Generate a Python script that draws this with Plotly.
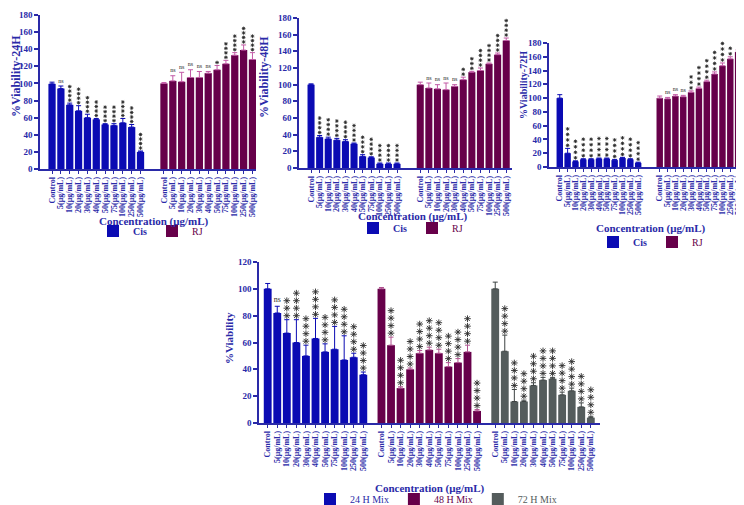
import plotly.graph_objects as go

# ---------------- data ----------------
categories = ["Control", "5(μg/mL)", "10(μg/mL)", "20(μg/mL)", "30(μg/mL)", "40(μg/mL)",
              "50(μg/mL)", "75(μg/mL)", "100(μg/mL)", "250(μg/mL)", "500(μg/mL)"]

cis_24h = [99.5, 94, 75, 68, 60, 58, 52, 51, 54, 49, 20]
cis_24h_err = [2, 3, 2, 6, 4, 1, 1, 2, 5, 3, 1]
cis_24h_sig = ["", "ns", "****", "****", "****", "****", "****", "****", "****", "****", "****"]
rj_24h = [100, 103, 102, 107, 107, 112, 116, 123, 133, 139, 128]
rj_24h_err = [1, 6, 11, 9, 7, 2, 5, 4, 3, 6, 8]
rj_24h_sig = ["", "ns", "ns", "ns", "ns", "ns", "*", "****", "****", "****", "****"]

cis_48h = [100, 37, 35, 33.5, 32, 29, 14, 12.5, 5, 5, 5]
cis_48h_err = [1, 2, 2, 2, 2, 1, 2, 1, 1, 1, 1]
cis_48h_sig = ["", "****", "****", "****", "****", "****", "****", "****", "****", "****", "****"]
rj_48h = [100, 96, 95, 94, 98, 106, 115, 117, 125, 136, 153]
rj_48h_err = [3, 6, 5, 8, 2, 3, 1, 3, 1, 2, 3]
rj_48h_sig = ["", "ns", "ns", "ns", "ns", "**", "***", "****", "****", "****", "****"]

cis_72h = [100, 20, 8, 11, 11, 12, 12, 10, 13, 11, 6]
cis_72h_err = [5, 7, 1, 1, 1, 1, 1, 1, 1, 1, 1]
cis_72h_sig = ["", "****", "****", "****", "****", "****", "****", "****", "****", "****", "****"]
rj_72h = [100, 99, 103, 102, 108.5, 114, 124, 135, 147, 157, 167]
rj_72h_err = [3, 2, 2, 2, 2, 2, 2, 3, 4, 3, 3]
rj_72h_sig = ["", "ns", "ns", "ns", "***", "****", "****", "****", "****", "****", "****"]

mix_24h = [100, 82, 67, 60, 50, 63, 53, 55, 47, 49, 36]
mix_24h_err = [4, 5, 10, 17, 8, 15, 6, 17, 18, 3, 2]
mix_24h_sig = ["", "ns", "***", "****", "****", "****", "****", "****", "****", "****", "****"]
mix_48h = [100, 58, 26, 40, 52, 54.5, 52, 42, 45, 53, 9]
mix_48h_err = [1, 6, 1, 1, 2, 2, 3, 3, 3, 5, 1]
mix_48h_sig = ["", "****", "****", "****", "****", "****", "****", "****", "****", "****", "****"]
mix_72h = [100, 53.5, 16, 16, 28, 32, 33, 21, 24, 12, 4]
mix_72h_err = [5, 12, 9, 1, 2, 2, 1, 2, 2, 3, 1]
mix_72h_sig = ["", "****", "****", "****", "****", "****", "****", "****", "****", "****", "****"]

# ---------------- style / layout ----------------
# the page body has an 8px margin, so the figure is drawn 8px in from the window edge
OX, OY = 8, 8
W, H = 744 - OX, 505 - OY
BLUE = "#0b0bb3"
MAROON = "#67004a"
GRAY = "#545c5c"
TXT = "#2a2aa8"
STAR = "#2b2b2b"
FONT = "Liberation Serif"


def fx(px):
    return (px - OX) / W


def fy(py):
    return 1 - (py - OY) / H


# panel geometry in window pixels: (x_left, x_right), (y_bottom, y_top)
panels = [
    dict(px=(40, 256), py=(169, 15), xr=(-1.36, 23.05), ymax=180, offsets=[0, 12.65],
         ytitle="%Viability-24H", ytpos=(16, 76), ytsize=12, xtpos=(154, 222),
         legpos=(113, 231),
         step=4.5, pad=3, starsize=3, nssize=6,
         groups=[("Cis", cis_24h, cis_24h_err, cis_24h_sig, BLUE, BLUE),
                 ("RJ", rj_24h, rj_24h_err, rj_24h_sig, MAROON, "#c25aa6")]),
    dict(px=(299, 512), py=(168, 18), xr=(-1.4, 23.37), ymax=180, offsets=[0, 12.7],
         ytitle="%Viability-48H", ytpos=(264, 77), ytsize=12, xtpos=(413, 216),
         legpos=(373, 228),
         step=4.8, pad=3, starsize=3, nssize=6,
         groups=[("Cis", cis_48h, cis_48h_err, cis_48h_sig, BLUE, BLUE),
                 ("RJ", rj_48h, rj_48h_err, rj_48h_sig, MAROON, "#c25aa6")]),
    dict(px=(549, 744), py=(167, 43), xr=(-1.375, 23.5), ymax=180, offsets=[0, 12.75],
         ytitle="%Viability-72H", ytpos=(523, 85), ytsize=10, xtpos=(651, 228),
         legpos=(613, 242),
         step=5.5, pad=3, starsize=3, nssize=6,
         groups=[("Cis", cis_72h, cis_72h_err, cis_72h_sig, BLUE, BLUE),
                 ("RJ", rj_72h, rj_72h_err, rj_72h_sig, MAROON, "#c25aa6")]),
    dict(px=(259, 600), py=(423, 262), xr=(-0.91, 34.76), ymax=120, offsets=[0, 11.9, 23.8],
         ytitle="%Viability", ytpos=(229, 338), ytsize=11, xtpos=(430, 488),
         legpos=(330, 499),
         step=7.5, pad=4, starsize=5.5, nssize=8,
         groups=[("24 H Mix", mix_24h, mix_24h_err, mix_24h_sig, BLUE, BLUE),
                 ("48 H Mix", mix_48h, mix_48h_err, mix_48h_sig, MAROON, "#b0508f"),
                 ("72 H Mix", mix_72h, mix_72h_err, mix_72h_sig, GRAY, "#3c4242")]),
]

fig = go.Figure()
layout = dict(width=W, height=H, margin=dict(l=0, r=0, t=0, b=0, autoexpand=False),
              paper_bgcolor="white", plot_bgcolor="white", barmode="overlay",
              font=dict(family=FONT, color=TXT))
annotations = []

for pi, p in enumerate(panels):
    s = "" if pi == 0 else str(pi + 1)
    lid = "legend" if pi == 0 else "legend%d" % (pi + 1)
    xd = [fx(p["px"][0]), min(1.0, fx(p["px"][1]))]
    yd = [fy(p["py"][0]), fy(p["py"][1])]
    ppu = (p["py"][0] - p["py"][1]) / p["ymax"]  # pixels per data unit
    tickvals, ticktext = [], []
    bottom = pi == 3
    for gi, (name, vals, errs, sigs, col, ecol) in enumerate(p["groups"]):
        off = p["offsets"][gi]
        xs = [off + j for j in range(len(vals))]
        tickvals += xs
        ticktext += categories
        if bottom:
            lname = "<span style='color:%s'>%s</span>" % (col if col != BLUE else TXT, name)
        else:
            lname = "<b>%s</b>" % name if name == "Cis" else "<span style='color:%s'>%s</span>" % (MAROON, name)
        fig.add_trace(go.Bar(
            x=xs, y=vals, width=0.82, name=lname, legend=lid,
            marker=dict(color=col, line=dict(width=0)),
            error_y=dict(type="data", symmetric=False, array=errs, arrayminus=[0] * len(errs),
                         color=ecol, thickness=1, width=2.5),
            xaxis="x" + s, yaxis="y" + s))
        # significance marks (asterisks drawn as markers, "ns" as text)
        sx, sy, nx, ny = [], [], [], []
        for j, sg in enumerate(sigs):
            top = vals[j] + errs[j]
            if sg == "ns":
                nx.append(xs[j]); ny.append(top + (p["pad"] + 2) / ppu)
            elif sg:
                for k in range(len(sg)):
                    sx.append(xs[j]); sy.append(top + (p["pad"] + k * p["step"]) / ppu)
        fig.add_trace(go.Scatter(x=sx, y=sy, mode="markers", showlegend=False, hoverinfo="skip",
                                 marker=dict(symbol="asterisk-open", size=p["starsize"],
                                             color=STAR, line=dict(color=STAR, width=0.9)),
                                 cliponaxis=False, xaxis="x" + s, yaxis="y" + s))
        fig.add_trace(go.Scatter(x=nx, y=ny, mode="text", text=["ns"] * len(nx),
                                 textposition="middle center", showlegend=False, hoverinfo="skip",
                                 textfont=dict(family=FONT, size=p["nssize"], color=STAR),
                                 cliponaxis=False, xaxis="x" + s, yaxis="y" + s))

    # legend symbol centre sits 20px right of the legend's left edge
    layout[lid] = dict(x=fx(p["legpos"][0] - 20), y=fy(p["legpos"][1]),
                       xanchor="left", yanchor="middle",
                       orientation="h", bgcolor="rgba(0,0,0,0)", borderwidth=0,
                       itemwidth=30, font=dict(family=FONT, size=10, color=TXT),
                       itemclick=False, itemdoubleclick=False)
    layout["xaxis" + s] = dict(domain=xd, anchor="y" + s, range=list(p["xr"]),
                               tickmode="array", tickvals=tickvals, ticktext=ticktext,
                               tickangle=-90, ticks="outside", ticklen=3, tickwidth=1,
                               tickcolor=TXT, showline=True, linecolor=TXT, linewidth=1.5,
                               showgrid=False, zeroline=False, fixedrange=True,
                               tickfont=dict(family=FONT, size=8, color=TXT, weight="bold"))
    layout["yaxis" + s] = dict(domain=yd, anchor="x" + s, range=[0, p["ymax"]], dtick=20,
                               ticks="outside", ticklen=4, tickwidth=1.5, tickcolor=TXT,
                               showline=True, linecolor=TXT, linewidth=1.5, showgrid=False,
                               zeroline=False, fixedrange=True,
                               tickfont=dict(family=FONT, size=9, color=TXT, weight="bold"))
    annotations.append(dict(text=p["ytitle"], x=fx(p["ytpos"][0]), y=fy(p["ytpos"][1]),
                            xref="paper", yref="paper", textangle=-90, showarrow=False,
                            xanchor="center", yanchor="middle",
                            font=dict(family=FONT, size=p["ytsize"], color=TXT, weight="bold")))
    annotations.append(dict(text="Concentration (μg/mL)", x=fx(p["xtpos"][0]), y=fy(p["xtpos"][1]),
                            xref="paper", yref="paper", showarrow=False,
                            xanchor="center", yanchor="middle",
                            font=dict(family=FONT, size=11, color=TXT, weight="bold")))

layout["annotations"] = annotations
fig.update_layout(**layout)
fig.write_html("out.html")
